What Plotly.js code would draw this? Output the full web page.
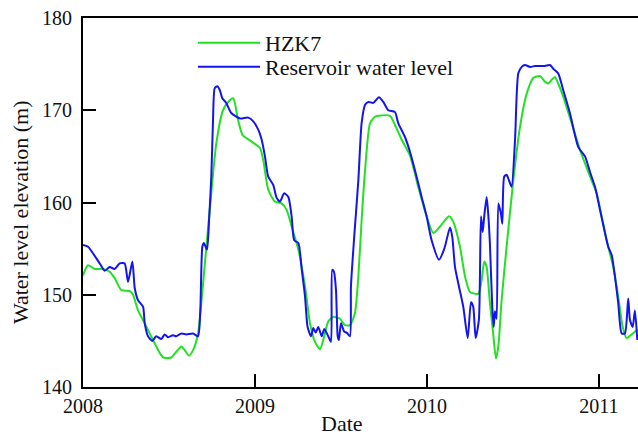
<!DOCTYPE html>
<html>
<head>
<meta charset="utf-8">
<script src="https://cdn.plot.ly/plotly-3.0.1.min.js"></script>
<style>
  html, body { margin: 0; padding: 0; background: #fff; }
  #chart { width: 638px; height: 439px; }
</style>
</head>
<body>
<div id="chart"></div>
<script>
// Groundwater level at borehole HZK7 (decimal years, metres)
const hzk7Date = [
  2008.000, 2008.029, 2008.068, 2008.116, 2008.155, 2008.184, 2008.223, 2008.272, 2008.291, 2008.320,
  2008.359, 2008.407, 2008.465, 2008.513, 2008.542, 2008.572, 2008.591, 2008.616, 2008.640, 2008.669,
  2008.698, 2008.737, 2008.775, 2008.814, 2008.849, 2008.874, 2008.901, 2008.928, 2008.981, 2009.029,
  2009.048, 2009.077, 2009.116, 2009.155, 2009.184, 2009.213, 2009.252, 2009.291, 2009.320, 2009.349,
  2009.378, 2009.397, 2009.426, 2009.455, 2009.494, 2009.523, 2009.552, 2009.581, 2009.601, 2009.620,
  2009.640, 2009.669, 2009.698, 2009.717, 2009.785, 2009.814, 2009.853, 2009.901, 2009.949, 2009.998,
  2010.037, 2010.076, 2010.128, 2010.153, 2010.192, 2010.221, 2010.250, 2010.298, 2010.318, 2010.333,
  2010.347, 2010.366, 2010.385, 2010.401, 2010.415, 2010.434, 2010.463, 2010.502, 2010.541, 2010.580,
  2010.618, 2010.657, 2010.686, 2010.705, 2010.725, 2010.744, 2010.763, 2010.792, 2010.841, 2010.890,
  2010.957, 2010.987, 2011.016, 2011.045, 2011.083, 2011.112, 2011.138, 2011.161, 2011.184, 2011.223
];
const hzk7Level = [
  152.1, 153.2, 152.8, 152.8, 152.5, 151.8, 150.5, 150.4, 150.0, 148.3,
  146.9, 145.1, 143.2, 143.2, 143.8, 144.4, 144.0, 143.4, 144.0, 145.8,
  151.2, 159.2, 166.4, 170.0, 171.0, 171.3, 169.0, 167.3, 166.6, 165.9,
  164.6, 161.4, 160.1, 159.9, 159.2, 157.4, 154.9, 150.9, 146.9, 144.9,
  144.1, 145.1, 147.1, 147.6, 147.4, 146.7, 146.7, 148.0, 152.0, 158.1,
  163.5, 168.6, 169.3, 169.4, 169.4, 168.4, 166.8, 165.1, 161.7, 158.5,
  156.7, 157.4, 158.5, 157.9, 155.2, 152.0, 150.3, 150.1, 151.6, 153.6,
  153.0, 149.1, 145.8, 143.1, 144.4, 149.4, 155.2, 162.4, 168.2, 171.8,
  173.5, 173.7, 173.1, 172.9, 173.3, 173.6, 172.9, 171.5, 168.6, 165.7,
  162.4, 161.0, 158.5, 155.9, 153.0, 149.8, 146.5, 145.3, 145.6, 146.2
];

// Reservoir water level (decimal years, metres)
const reservoirDate = [
  2008.000, 2008.029, 2008.097, 2008.126, 2008.155, 2008.184, 2008.213, 2008.242, 2008.262, 2008.287,
  2008.301, 2008.320, 2008.349, 2008.359, 2008.378, 2008.403, 2008.426, 2008.455, 2008.475, 2008.494,
  2008.523, 2008.542, 2008.572, 2008.601, 2008.640, 2008.669, 2008.682, 2008.694, 2008.703, 2008.721,
  2008.733, 2008.746, 2008.756, 2008.766, 2008.781, 2008.795, 2008.810, 2008.833, 2008.862, 2008.913,
  2008.961, 2008.990, 2009.019, 2009.039, 2009.058, 2009.077, 2009.106, 2009.126, 2009.145, 2009.170,
  2009.194, 2009.213, 2009.228, 2009.252, 2009.272, 2009.291, 2009.306, 2009.326, 2009.339, 2009.353,
  2009.368, 2009.388, 2009.403, 2009.426, 2009.442, 2009.449, 2009.459, 2009.471, 2009.481, 2009.488,
  2009.500, 2009.519, 2009.533, 2009.552, 2009.558, 2009.577, 2009.601, 2009.620, 2009.640, 2009.659,
  2009.688, 2009.721, 2009.746, 2009.775, 2009.814, 2009.833, 2009.872, 2009.901, 2009.930, 2009.969,
  2009.998, 2010.027, 2010.070, 2010.101, 2010.134, 2010.147, 2010.163, 2010.186, 2010.211, 2010.237,
  2010.256, 2010.269, 2010.283, 2010.302, 2010.314, 2010.324, 2010.333, 2010.347, 2010.356, 2010.366,
  2010.380, 2010.388, 2010.395, 2010.405, 2010.415, 2010.430, 2010.438, 2010.449, 2010.463, 2010.477,
  2010.492, 2010.512, 2010.531, 2010.551, 2010.570, 2010.599, 2010.628, 2010.657, 2010.686, 2010.715,
  2010.734, 2010.763, 2010.792, 2010.831, 2010.880, 2010.919, 2010.948, 2010.977, 2011.006, 2011.035,
  2011.054, 2011.074, 2011.093, 2011.112, 2011.132, 2011.151, 2011.170, 2011.180, 2011.196, 2011.209,
  2011.223
];
const reservoirLevel = [
  155.4, 155.2, 153.4, 152.6, 153.0, 152.8, 153.4, 153.4, 151.4, 153.6,
  150.7, 149.4, 148.7, 146.9, 145.5, 145.0, 145.5, 145.2, 145.7, 145.4,
  145.6, 145.5, 145.8, 145.7, 145.8, 145.5, 148.3, 155.2, 155.6, 154.9,
  158.1, 162.8, 168.9, 172.4, 172.6, 172.2, 171.3, 170.8, 169.7, 169.1,
  169.2, 168.8, 167.9, 166.8, 165.0, 162.8, 161.9, 160.5, 160.1, 161.0,
  160.6, 158.5, 155.9, 155.6, 152.7, 149.8, 146.5, 145.5, 146.4, 145.9,
  146.5, 145.5, 146.3, 145.5, 144.9, 152.7, 152.5, 150.5, 145.5, 145.1,
  146.9, 146.0, 145.9, 145.5, 150.9, 156.3, 162.4, 168.6, 170.6, 170.9,
  170.8, 171.4, 170.9, 170.0, 169.8, 168.6, 167.1, 165.5, 163.5, 160.6,
  158.5, 155.9, 153.8, 155.0, 157.3, 156.3, 153.0, 150.9, 148.7, 145.3,
  149.2, 148.7, 145.3, 147.3, 158.5, 156.8, 158.5, 160.6, 158.8, 155.5,
  148.5, 146.5, 148.2, 147.4, 159.9, 158.8, 157.7, 162.8, 163.0, 162.4,
  161.7, 166.8, 174.0, 174.7, 174.9, 174.7, 174.8, 174.8, 174.8, 174.9,
  174.5, 174.0, 172.2, 169.7, 166.0, 165.0, 163.3, 161.7, 159.2, 156.7,
  155.2, 154.3, 152.0, 149.1, 145.8, 145.8, 149.6, 147.3, 146.5, 148.3,
  145.1
];

const yearTicks = [2008, 2009, 2010, 2011];
const levelTicks = [140, 150, 160, 170, 180];

const serif = 'Liberation Serif, Times New Roman, serif';

const traces = [
  {
    name: 'HZK7',
    x: hzk7Date,
    y: hzk7Level,
    type: 'scatter',
    mode: 'lines',
    legend: 'legend',
    line: { color: '#22e022', width: 2, shape: 'spline', smoothing: 0.6 }
  },
  {
    name: 'Reservoir water level',
    x: reservoirDate,
    y: reservoirLevel,
    type: 'scatter',
    mode: 'lines',
    legend: 'legend2',
    line: { color: '#1414ee', width: 2, shape: 'spline', smoothing: 0.6 }
  }
];

const axisCommon = {
  showline: true,
  linecolor: '#000',
  linewidth: 2,
  showgrid: false,
  zeroline: false,
  ticks: 'inside',
  ticklen: 13,
  tickwidth: 2,
  tickcolor: '#000',
  tickfont: { family: serif, size: 20, color: '#111' }
};

// One legend box per series so each row sits at its own height
const legendCommon = {
  xanchor: 'left', yanchor: 'top',
  bgcolor: 'rgba(0,0,0,0)',
  borderwidth: 0,
  itemwidth: 62,
  font: { family: serif, size: 22, color: '#111' }
};

const layout = {
  width: 638,
  height: 439,
  margin: { l: 83, r: 0, t: 18, b: 52 },
  paper_bgcolor: '#fff',
  plot_bgcolor: '#fff',
  showlegend: true,
  legend: Object.assign({}, legendCommon, { x: 0.1982, y: 0.989 }),
  legend2: Object.assign({}, legendCommon, { x: 0.1982, y: 0.924 }),
  xaxis: Object.assign({}, axisCommon, {
    range: [2008, 2011.227],
    tickvals: yearTicks,
    ticktext: yearTicks.map(String),
    mirror: true
  }),
  yaxis: Object.assign({}, axisCommon, {
    range: [140, 180],
    tickvals: levelTicks,
    ticktext: levelTicks.map(String),
    ticklabelstandoff: 5
  }),
  annotations: [
    {
      text: 'Date',
      xref: 'paper', yref: 'paper',
      x: 0.4667, y: -0.098,
      xanchor: 'center', yanchor: 'middle',
      showarrow: false,
      font: { family: serif, size: 22, color: '#111' }
    },
    {
      text: 'Water level elevation (m)',
      xref: 'paper', yref: 'paper',
      x: -0.1135, y: 0.474,
      xanchor: 'center', yanchor: 'middle',
      textangle: -90,
      showarrow: false,
      font: { family: serif, size: 22, color: '#111' }
    }
  ]
};

Plotly.newPlot('chart', traces, layout, { displayModeBar: false, staticPlot: true });
</script>
</body>
</html>
